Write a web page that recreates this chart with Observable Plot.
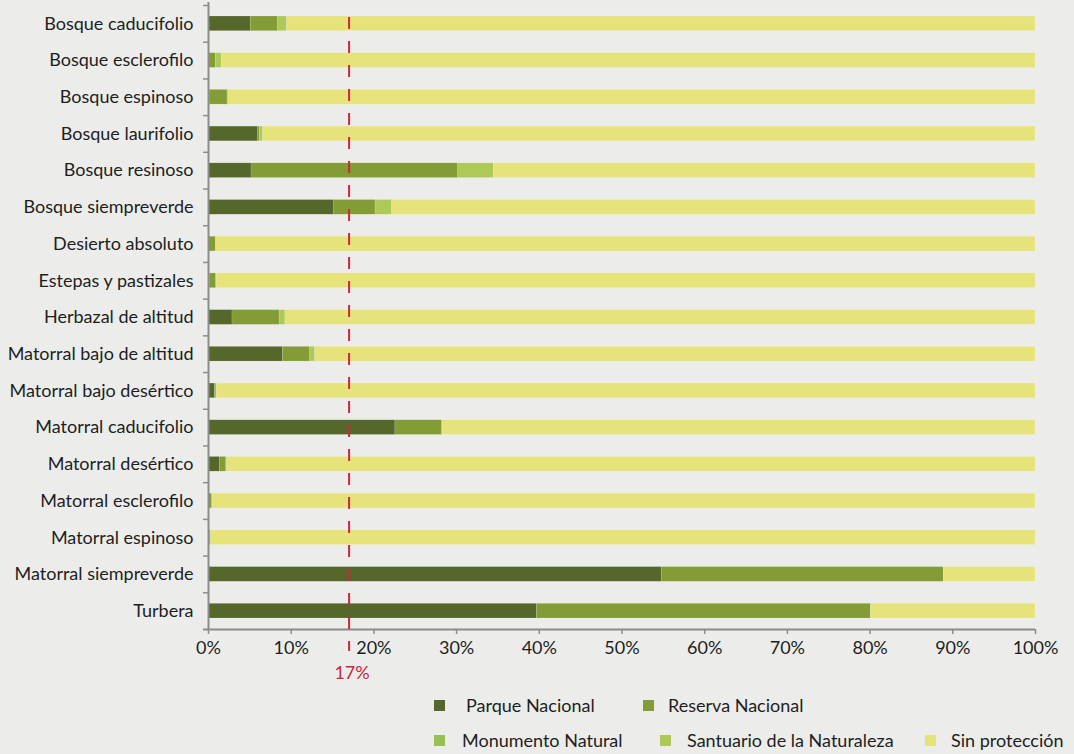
<!DOCTYPE html>
<html>
<head>
<meta charset="utf-8">
<script src="https://cdn.jsdelivr.net/npm/d3@7"></script>
<script src="https://cdn.jsdelivr.net/npm/@observablehq/plot@0.6"></script>
<style>
  html, body { margin: 0; padding: 0; background: #ecedeb; }
  body { width: 1074px; height: 754px; overflow: hidden; font-family: Lato, "Open Sans", sans-serif; }
  #chart { position: relative; width: 1074px; height: 690px; }
  #legend { position: relative; width: 1074px; height: 64px; font-size: 18px; color: #1e1e1e; }
  .sw { width: 11px; height: 11px; display: inline-block; }
</style>
</head>
<body>
<div id="chart"></div>
<div id="legend"></div>
<script>
const categories = ["Bosque caducifolio","Bosque esclerofilo","Bosque espinoso","Bosque laurifolio","Bosque resinoso","Bosque siempreverde","Desierto absoluto","Estepas y pastizales","Herbazal de altitud","Matorral bajo de altitud","Matorral bajo desértico","Matorral caducifolio","Matorral desértico","Matorral esclerofilo","Matorral espinoso","Matorral siempreverde","Turbera"];
const seriesNames = ["Parque Nacional","Reserva Nacional","Monumento Natural","Santuario de la Naturaleza","Sin protección"];
const parqueNacional   = [5.1, 0.1, 0.2, 6.0, 5.2, 15.2, 0.0, 0.15, 2.9, 9.0, 0.8, 22.6, 1.4, 0.0, 0.0, 54.8, 39.7];
const reservaNacional  = [3.3, 0.8, 2.1, 0.2, 25.0, 5.0, 0.9, 0.75, 5.7, 3.3, 0.0, 5.6, 0.75, 0.4, 0.0, 34.1, 40.4];
const monumentoNatural = [0.0, 0.0, 0.1, 0.0, 0.0, 0.0, 0.0, 0.1, 0.0, 0.0, 0.2, 0.1, 0.1, 0.1, 0.3, 0.0, 0.0];
const santuario        = [1.1, 0.7, 0.0, 0.4, 4.3, 2.0, 0.0, 0.0, 0.7, 0.6, 0.0, 0.0, 0.0, 0.0, 0.0, 0.0, 0.0];
const sinProteccion    = [90.5, 98.4, 97.6, 93.4, 65.5, 77.8, 99.1, 99.0, 90.7, 87.1, 99.0, 71.7, 97.75, 99.5, 99.7, 11.1, 19.9];
const xTicks = [0, 10, 20, 30, 40, 50, 60, 70, 80, 90, 100];
const target = [17];
const colors = ["#56672b", "#849c35", "#97c157", "#afc959", "#e5e37a"];

const seriesValues = [parqueNacional, reservaNacional, monumentoNatural, santuario, sinProteccion];
const data = [];
categories.forEach((c, i) => {
  seriesNames.forEach((s, j) => data.push({category: c, series: s, value: seriesValues[j][i]}));
});

const W = 1074, H = 690, mt = 5, mb = 61;
const step = (H - mt - mb) / categories.length;
const font = "Lato, 'Open Sans', sans-serif";
const axisGrey = "#8c8c8c";

const chart = Plot.plot({
  width: W, height: H,
  marginLeft: 208, marginRight: 39, marginTop: mt, marginBottom: mb,
  style: {background: "#ecedeb", fontFamily: font, fontSize: "18px", color: "#1e1e1e"},
  x: {domain: [0, 100], label: null},
  y: {domain: categories, paddingInner: 0.6, paddingOuter: 0.3, round: false, label: null},
  color: {domain: seriesNames, range: colors},
  marks: [
    Plot.barX(data, Plot.stackX({order: seriesNames, y: "category", x: "value", fill: "series", stroke: "#ffffff", strokeOpacity: 0.25, strokeWidth: 0.5})),
    Plot.axisY({tickSize: 0, tickPadding: 15, fontSize: 18, fill: "#1e1e1e"}),
    Plot.ruleY(categories, {y: d => d, x1: 0, x2: 0, insetLeft: -5, dy: -step / 2, stroke: axisGrey, strokeWidth: 1.5}),
    Plot.ruleY(categories.slice(-1), {y: d => d, x1: 0, x2: 100, insetLeft: -5, dy: step / 2, stroke: axisGrey, strokeWidth: 2}),
    Plot.ruleX([0], {stroke: axisGrey, strokeWidth: 2, insetTop: -3}),
    Plot.axisX({ticks: xTicks, tickFormat: d => d + "%", tickSize: 5, tickPadding: 7, stroke: axisGrey, strokeWidth: 1.5, fill: "#1e1e1e", fontSize: 18}),
    Plot.ruleX(target, {x: d => d, stroke: "#c9283e", strokeWidth: 2, strokeDasharray: "12,12", insetTop: 12, insetBottom: -22}),
    Plot.text(target, {x: d => d, frameAnchor: "bottom", dy: 49, dx: 3, text: d => d + "%", fill: "#c9283e", fontSize: 18})
  ]
});
document.getElementById("chart").appendChild(chart);

// legend
const legend = document.getElementById("legend");
const legendPos = [
  {sx: 434, tx: 466, row: 0},
  {sx: 643, tx: 668, row: 0},
  {sx: 434, tx: 462, row: 1},
  {sx: 660, tx: 687, row: 1},
  {sx: 925, tx: 951, row: 1}
];
seriesNames.forEach((s, i) => {
  const p = legendPos[i];
  const top = p.row === 0 ? 16 : 51;
  const sw = document.createElement("span");
  sw.className = "sw";
  sw.style.cssText = `position:absolute;left:${p.sx}px;top:${top - 6}px;background:${colors[i]}`;
  legend.appendChild(sw);
  const t = document.createElement("span");
  t.textContent = s;
  t.style.cssText = `position:absolute;left:${p.tx}px;top:${top - 11}px;line-height:20px;white-space:nowrap`;
  legend.appendChild(t);
});
</script>
</body>
</html>
